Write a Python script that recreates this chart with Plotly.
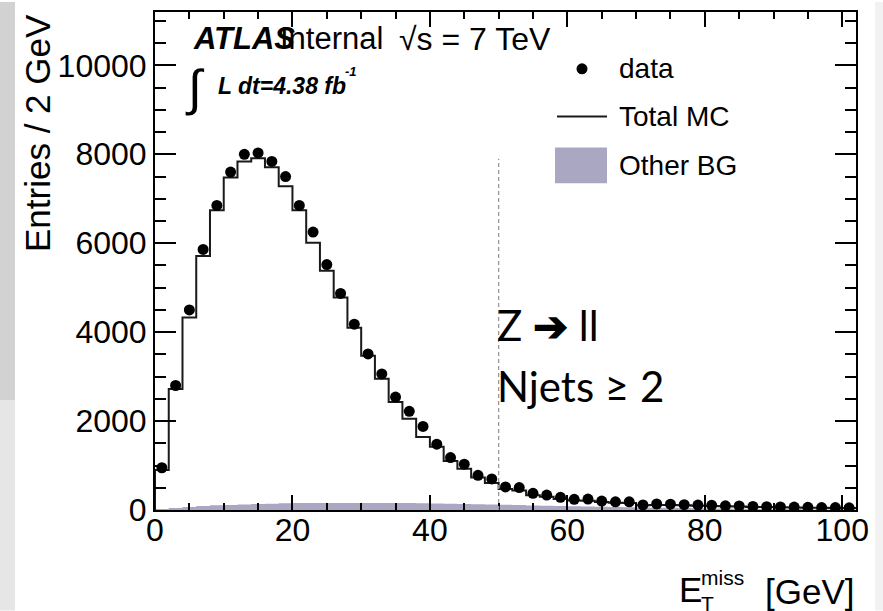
import plotly.graph_objects as go

# ---------------- data ----------------
bin_width = 2
bin_centers = [1, 3, 5, 7, 9, 11, 13, 15, 17, 19, 21, 23, 25, 27, 29, 31, 33, 35, 37, 39,
               41, 43, 45, 47, 49, 51, 53, 55, 57, 59, 61, 63, 65, 67, 69, 71, 73, 75, 77, 79,
               81, 83, 85, 87, 89, 91, 93, 95, 97, 99, 101]
data_counts = [950, 2800, 4500, 5860, 6850, 7600, 8000, 8030, 7840, 7500,
               6850, 6250, 5520, 4870, 4180, 3510, 3060, 2540, 2220, 1880,
               1480, 1180, 1030, 780, 700, 520, 505, 375, 335, 285,
               240, 245, 200, 185, 185, 115, 135, 130, 120, 110,
               105, 95, 90, 80, 75, 70, 65, 60, 55, 55, 50]
mc_counts = [900, 2720, 4330, 5710, 6740, 7480, 7840, 7910, 7710, 7280,
             6740, 6010, 5380, 4780, 4100, 3470, 2950, 2430, 2050, 1640,
             1420, 1100, 930, 730, 610, 470, 440, 330, 300, 250,
             215, 210, 180, 165, 160, 105, 115, 110, 105, 95,
             90, 85, 80, 70, 65, 60, 57, 52, 48, 47, 43]
other_bg = [20, 45, 70, 90, 105, 115, 125, 135, 140, 150,
            155, 160, 160, 160, 160, 160, 160, 155, 155, 150,
            145, 140, 135, 130, 125, 118, 110, 104, 98, 92,
            86, 80, 74, 68, 62, 57, 52, 48, 44, 40,
            36, 33, 30, 27, 24, 22, 20, 18, 16, 14, 12]
cut_value = 50
cut_top = 7900
x_ticks = [0, 20, 40, 60, 80, 100]
x_tick_labels = ["0", "20", "40", "60", "80", "100"]
y_ticks = [0, 2000, 4000, 6000, 8000, 10000]
y_tick_labels = ["0", "2000", "4000", "6000", "8000", "10000"]

# ---------------- geometry helpers ----------------
W, H = 883, 611
L, R, T, B = 155, 856, 10, 510


def fx(px):
    return (px - L) / (R - L)


def fy(py):
    return (B - py) / (B - T)


edges = [c - bin_width / 2 for c in bin_centers] + [bin_centers[-1] + bin_width / 2]

FONT = "Liberation Sans, Arial, Helvetica, sans-serif"
BGCOL = "#aaa7c3"

fig = go.Figure()

fig.add_trace(go.Scatter(
    x=edges, y=other_bg + [other_bg[-1]], mode="lines", line_shape="hv",
    line=dict(width=0, color=BGCOL), fill="tozeroy", fillcolor=BGCOL,
    name="Other BG", showlegend=False, hoverinfo="skip"))

fig.add_trace(go.Scatter(
    x=[edges[0]] + edges, y=[0] + mc_counts + [mc_counts[-1]], mode="lines",
    line_shape="hv", line=dict(width=2, color="#1a1a1a"),
    name="Total MC", showlegend=False))

fig.add_trace(go.Scatter(
    x=bin_centers, y=data_counts, mode="markers",
    marker=dict(size=11, color="black", symbol="circle"),
    name="data", showlegend=False))

shapes = [
    # slide background strips
    dict(type="rect", xref="paper", yref="paper", x0=fx(0), x1=fx(15), y0=fy(0), y1=fy(400),
         fillcolor="#d2d2d2", line=dict(width=0), layer="below"),
    dict(type="rect", xref="paper", yref="paper", x0=fx(0), x1=fx(15), y0=fy(400), y1=fy(611),
         fillcolor="#e6e6e6", line=dict(width=0), layer="below"),
    dict(type="rect", xref="paper", yref="paper", x0=fx(875), x1=fx(883), y0=fy(0), y1=fy(611),
         fillcolor="#f2f2f2", line=dict(width=0), layer="below"),
    # cut line
    dict(type="line", xref="x", yref="y", x0=cut_value, x1=cut_value, y0=0, y1=cut_top,
         line=dict(color="#999999", width=1.3, dash="4px,3px")),
    # legend: data marker
    dict(type="circle", xref="paper", yref="paper",
         x0=fx(582 - 5.5), x1=fx(582 + 5.5), y0=fy(67 + 5.5), y1=fy(67 - 5.5),
         fillcolor="black", line=dict(width=0)),
    # legend: MC line
    dict(type="line", xref="paper", yref="paper", x0=fx(557), x1=fx(607), y0=fy(115), y1=fy(115),
         line=dict(color="#1a1a1a", width=2)),
    # legend: Other BG box
    dict(type="rect", xref="paper", yref="paper", x0=fx(555), x1=fx(607), y0=fy(182), y1=fy(146),
         fillcolor=BGCOL, line=dict(width=0)),
]


def ann(text, px, py, size, xanchor="left", yanchor="middle", family=FONT, color="black", **kw):
    return dict(text=text, x=fx(px), y=fy(py), xref="paper", yref="paper",
                xanchor=xanchor, yanchor=yanchor, showarrow=False,
                font=dict(family=family, size=size, color=color), **kw)


annotations = [
    ann("data", 617, 67, 28),
    ann("Total MC", 617, 115, 28),
    ann("Other BG", 617, 164, 28),
    ann("Internal", 278, 37, 31),
    ann("<b><i>ATLAS</i></b>", 191, 37, 31),
    ann("\u221as = 7 TeV", 397, 37, 32),
    ann("\u222b", 183, 86, 50),
    ann("<b><i>L dt=4.38 fb</i></b>", 216, 84, 23),
    ann("<b><i>-1</i></b>", 343, 70, 13),
    ann("Z <b>\u2794</b> ll", 495, 324, 42, family="Lato, Open Sans, sans-serif"),
    ann("Njets \u2265 2", 495, 386, 42, family="Lato, Open Sans, sans-serif"),
    # x-axis title E_T^miss [GeV]
    ann("E", 677, 590, 35),
    ann("miss", 699, 578, 21),
    ann("T", 699, 604, 21),
    ann("[GeV]", 856, 592, 35, xanchor="right"),
    # y-axis title
    dict(text="Entries / 2 GeV", x=fx(37), y=fy(10), xref="paper", yref="paper",
         xanchor="center", yanchor="top", showarrow=False, textangle=-90,
         font=dict(family=FONT, size=35, color="black")),
]

fig.update_layout(
    width=W, height=H, autosize=False,
    margin=dict(l=L, r=W - R, t=T, b=H - B, pad=0),
    paper_bgcolor="white", plot_bgcolor="white",
    showlegend=False,
    shapes=shapes, annotations=annotations,
    font=dict(family=FONT, color="black"),
)

fig.update_xaxes(
    range=[0, 102], tickvals=x_ticks, ticktext=x_tick_labels, ticks="inside", ticklen=15, tickwidth=1.5,
    tickcolor="black", showline=True, linewidth=2, linecolor="black", mirror="allticks",
    showgrid=False, zeroline=False, tickfont=dict(size=32, family=FONT),
    ticklabelposition="outside", ticklabelstandoff=-9,
    minor=dict(dtick=5, tick0=0, ticks="inside", ticklen=7, tickwidth=1.5, tickcolor="black", showgrid=False),
)
fig.update_yaxes(
    range=[0, 11200], tickvals=y_ticks, ticktext=y_tick_labels, ticks="inside", ticklen=21, tickwidth=1.5,
    tickcolor="black", showline=True, linewidth=2, linecolor="black", mirror="allticks",
    showgrid=False, zeroline=False, tickfont=dict(size=32, family=FONT),
    minor=dict(dtick=500, tick0=0, ticks="inside", ticklen=11, tickwidth=1.5, tickcolor="black", showgrid=False),
)

fig.write_html("out.html", config={"displayModeBar": False},
               post_script="document.body.style.margin='0';document.body.style.overflow='hidden';")
